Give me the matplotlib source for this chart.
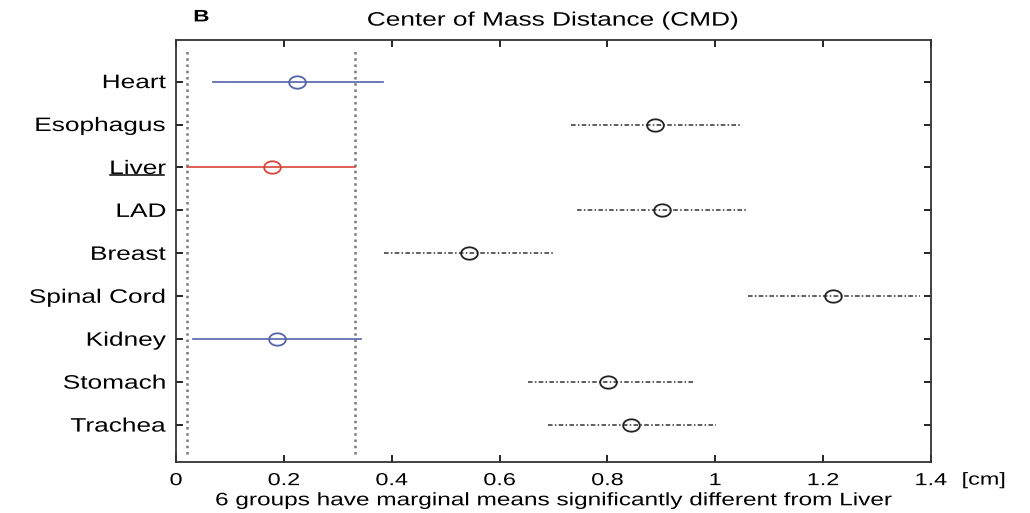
import matplotlib
matplotlib.use("Agg")
import numpy as np
import matplotlib.pyplot as plt
from matplotlib.patheffects import AbstractPathEffect
from matplotlib.transforms import Affine2D
from matplotlib.path import Path

groups = ["Heart", "Esophagus", "Liver", "LAD", "Breast", "Spinal Cord", "Kidney", "Stomach", "Trachea"]
means = [0.225, 0.889, 0.178, 0.902, 0.544, 1.219, 0.187, 0.801, 0.844]
lower = [0.068, 0.733, 0.020, 0.744, 0.386, 1.061, 0.031, 0.653, 0.690]
upper = [0.383, 1.050, 0.332, 1.059, 0.699, 1.380, 0.343, 0.961, 1.002]
# 'ref' = comparison group, 'same' = not significantly different, 'diff' = significantly different
status = ["same", "diff", "ref", "diff", "diff", "diff", "same", "diff", "diff"]
xticks = [0, 0.2, 0.4, 0.6, 0.8, 1, 1.2, 1.4]
xticklabels = ["0", "0.2", "0.4", "0.6", "0.8", "1", "1.2", "1.4"]

plt.rcParams['font.family'] = ['Liberation Sans', 'DejaVu Sans']

SX = 1.35  # horizontal stretch of the reference picture


class HStretch(AbstractPathEffect):
    def __init__(self, sx, anchor="center"):
        super().__init__()
        self.sx = sx
        self.anchor = anchor

    def draw_path(self, renderer, gc, tpath, affine, rgbFace=None):
        ext = tpath.get_extents(affine)
        if self.anchor == "right":
            px = ext.x1
        elif self.anchor == "left":
            px = ext.x0
        else:
            px = 0.5 * (ext.x0 + ext.x1)
        new = affine + Affine2D().translate(-px, 0).scale(self.sx, 1).translate(px, 0)
        renderer.draw_path(gc, tpath, new, rgbFace)


fig = plt.figure(figsize=(10.3, 5.13), dpi=100)
ax = fig.add_axes([0.1709, 0.0994, 0.7330, 0.8236])

styles = {
    "ref": dict(color="#d8453a", ls="-", lw=1.2),
    "same": dict(color="#5563a8", ls="-", lw=1.2),
    "diff": dict(color="#333333", ls=(0, (3, 1.5, 1, 1.5)), lw=1.1),
}

# ellipse marker (circle stretched horizontally like the reference)
t = np.linspace(0, 2 * np.pi, 60)
ell = Path(np.column_stack([np.cos(t), np.sin(t) / SX]), closed=True)

ref_idx = status.index("ref")
for xv in (lower[ref_idx], upper[ref_idx]):
    ax.axvline(xv, ymin=0.02, ymax=0.98, color="#7a7a7a", ls=(0, (1, 1.5)), lw=1.8, zorder=1)

for i, (m, lo, hi, st) in enumerate(zip(means, lower, upper, status)):
    y = i + 1
    s = styles[st]
    ax.plot([lo, hi], [y, y], color=s["color"], ls=s["ls"], lw=s["lw"], zorder=2)
    mc = s["color"] if st != "diff" else "#222222"
    ax.plot([m], [y], marker=ell, ms=12, mfc="none", mec=mc, mew=1.3, ls="none", zorder=3)

ax.set_xlim(0, 1.4)
ax.set_ylim(9.86, 0.02)
ax.set_xticks(xticks)
ax.set_xticklabels(xticklabels, fontsize=12.5)
ax.set_yticks(range(1, len(groups) + 1))
ax.set_yticklabels(groups, fontsize=14)
ax.tick_params(direction="in", length=5, width=1.2, top=True, right=True)
ax.tick_params(axis="y", pad=7)
ax.tick_params(axis="x", pad=8)
for sp in ax.spines.values():
    sp.set_linewidth(1.3)
    sp.set_color("#333333")

for lab in ax.get_xticklabels():
    lab.set_path_effects([HStretch(SX, "center")])
for lab in ax.get_yticklabels():
    lab.set_path_effects([HStretch(SX, "right")])

ttl = ax.set_title("Center of Mass Distance (CMD)", fontsize=14, pad=10)
ttl.set_path_effects([HStretch(SX, "center")])
tb = fig.text(0.188, 0.967, "B", fontsize=12, fontweight="bold", ha="left", va="center")
tb.set_path_effects([HStretch(SX, "left")])
tc = fig.text(0.934, 0.064, "[cm]", fontsize=12.5, ha="left", va="center")
tc.set_path_effects([HStretch(SX, "left")])
xl = ax.set_xlabel("6 groups have marginal means significantly different from Liver", fontsize=13, labelpad=3)
xl.set_path_effects([HStretch(SX, "center")])

# underline the reference group label
fig.canvas.draw()
lab = ax.get_yticklabels()[ref_idx]
bb = lab.get_window_extent()
x1 = bb.x1
x0 = bb.x1 - (bb.x1 - bb.x0) * SX
inv = fig.transFigure.inverted()
(fx0, fy0), (fx1, fy1) = inv.transform([(x0, bb.y0), (x1, bb.y1)])
fig.lines.append(plt.Line2D([fx0 + 0.001, fx1 - 0.002], [fy0 + 0.005, fy0 + 0.005],
                            color="black", lw=1.1, transform=fig.transFigure))

fig.savefig("out.png", dpi=100)
